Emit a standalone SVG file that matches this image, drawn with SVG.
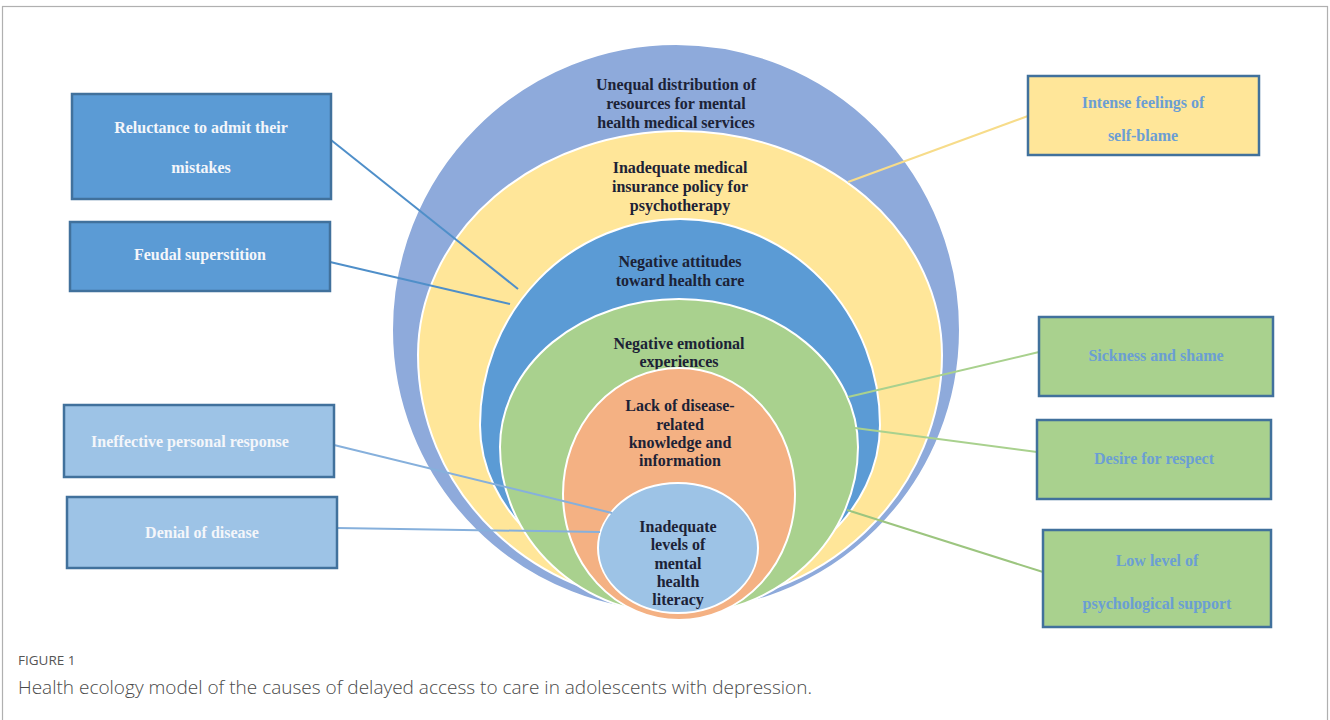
<svg xmlns="http://www.w3.org/2000/svg" width="1330" height="720" viewBox="0 0 1330 720">
  <style>
    .ring { stroke: #ffffff; stroke-width: 2; }
    .ringtxt { font-family: "Liberation Serif", serif; font-weight: bold; font-size: 16px; fill: #1c2236; text-anchor: middle; }
    .box { stroke: #41719c; stroke-width: 2.5; }
    .boxtxt { font-family: "Liberation Serif", serif; font-weight: bold; font-size: 16px; text-anchor: middle; }
    .wt { fill: #f4f6fa; }
    .bt { fill: #6b9ed4; }
    .link { fill: none; stroke-width: 2; }
    .cap1 { font-family: "Open Sans", "Liberation Sans", sans-serif; font-size: 13.5px; fill: #555555; }
    .cap2 { font-family: "Open Sans", "Liberation Sans", sans-serif; font-size: 19px; font-weight: 300; fill: #4a4a4a; }
  </style>

  <rect width="1330" height="720" fill="#ffffff"/>
  <!-- figure frame -->
  <rect x="2.5" y="6.5" width="1325" height="730" fill="none" stroke="#b0b0b0" stroke-width="1.2"/>

  <!-- nested ecological layers, outermost first -->
  <g id="layer-resources">
    <path class="ring" fill="#8eaadb" d="M392,330 A284,286 0 0 1 960,330 A284,282 0 0 1 392,330 Z"/>
    <text class="ringtxt" x="676" y="90">Unequal distribution of</text>
    <text class="ringtxt" x="676" y="109">resources for mental</text>
    <text class="ringtxt" x="676" y="128">health medical services</text>
  </g>
  <g id="layer-insurance">
    <path class="ring" fill="#ffe699" d="M418,355 A262,224 0 0 1 942,355 A262,250 0 0 1 418,355 Z"/>
    <text class="ringtxt" x="680" y="173">Inadequate medical</text>
    <text class="ringtxt" x="680" y="192">insurance policy for</text>
    <text class="ringtxt" x="680" y="211">psychotherapy</text>
  </g>
  <g id="layer-attitudes">
    <path class="ring" fill="#5b9bd5" d="M480,425 A200,206 0 0 1 880,425 A200,165 0 0 1 480,425 Z"/>
    <text class="ringtxt" x="680" y="267">Negative attitudes</text>
    <text class="ringtxt" x="680" y="286">toward health care</text>
  </g>
  <g id="layer-emotions">
    <path class="ring" fill="#a9d18e" d="M500,447 A179,148 0 0 1 858,447 A179,168 0 0 1 500,447 Z"/>
    <text class="ringtxt" x="679" y="349">Negative emotional</text>
    <text class="ringtxt" x="679" y="367">experiences</text>
  </g>
  <g id="layer-knowledge">
    <ellipse class="ring" fill="#f4b183" cx="679" cy="494" rx="116" ry="126"/>
    <text class="ringtxt" x="680" y="411">Lack of disease-</text>
    <text class="ringtxt" x="680" y="430">related</text>
    <text class="ringtxt" x="680" y="448">knowledge and</text>
    <text class="ringtxt" x="680" y="466">information</text>
  </g>
  <g id="layer-literacy">
    <ellipse class="ring" fill="#9dc3e6" cx="678" cy="548" rx="80" ry="65"/>
    <text class="ringtxt" x="678" y="532">Inadequate</text>
    <text class="ringtxt" x="678" y="550">levels of</text>
    <text class="ringtxt" x="678" y="569">mental</text>
    <text class="ringtxt" x="678" y="587">health</text>
    <text class="ringtxt" x="678" y="605">literacy</text>
  </g>

  <!-- connectors from factor boxes to layers -->
  <g id="connectors">
    <line class="link" stroke="#4f8fc9" x1="331" y1="140" x2="518" y2="289"/>
    <line class="link" stroke="#4f8fc9" x1="330" y1="262" x2="510" y2="304"/>
    <line class="link" stroke="#86b0dc" x1="334" y1="445" x2="612" y2="513"/>
    <line class="link" stroke="#86b0dc" x1="337" y1="528" x2="600" y2="532"/>
    <line class="link" stroke="#f7dc8a" x1="1028" y1="116" x2="848" y2="182"/>
    <line class="link" stroke="#a9d18e" x1="1039" y1="352" x2="848" y2="397"/>
    <line class="link" stroke="#a9d18e" x1="1037" y1="452" x2="855" y2="428"/>
    <line class="link" stroke="#9cc57f" x1="1043" y1="572" x2="847" y2="510"/>
  </g>

  <!-- factor boxes -->
  <g id="box-reluctance">
    <rect class="box" fill="#5b9bd5" x="72" y="94" width="259" height="105"/>
    <text class="boxtxt wt" x="201" y="133">Reluctance to admit their</text>
    <text class="boxtxt wt" x="201" y="173">mistakes</text>
  </g>
  <g id="box-feudal">
    <rect class="box" fill="#5b9bd5" x="70" y="222" width="260" height="69"/>
    <text class="boxtxt wt" x="200" y="260">Feudal superstition</text>
  </g>
  <g id="box-ineffective">
    <rect class="box" fill="#9dc3e6" x="64" y="405" width="270" height="72"/>
    <text class="boxtxt wt" x="190" y="447">Ineffective personal response</text>
  </g>
  <g id="box-denial">
    <rect class="box" fill="#9dc3e6" x="67" y="497" width="270" height="71"/>
    <text class="boxtxt wt" x="202" y="538">Denial of disease</text>
  </g>
  <g id="box-selfblame">
    <rect class="box" fill="#ffe699" x="1028" y="76" width="231" height="79"/>
    <text class="boxtxt bt" x="1143" y="108">Intense feelings of</text>
    <text class="boxtxt bt" x="1143" y="141">self-blame</text>
  </g>
  <g id="box-shame">
    <rect class="box" fill="#a9d18e" x="1039" y="317" width="234" height="79"/>
    <text class="boxtxt bt" x="1156" y="361">Sickness and shame</text>
  </g>
  <g id="box-respect">
    <rect class="box" fill="#a9d18e" x="1037" y="420" width="234" height="79"/>
    <text class="boxtxt bt" x="1154" y="464">Desire for respect</text>
  </g>
  <g id="box-support">
    <rect class="box" fill="#a9d18e" x="1043" y="530" width="228" height="97"/>
    <text class="boxtxt bt" x="1157" y="566">Low level of</text>
    <text class="boxtxt bt" x="1157" y="609">psychological support</text>
  </g>

  <!-- caption -->
  <text class="cap1" x="18" y="665">FIGURE 1</text>
  <text class="cap2" x="18" y="694">Health ecology model of the causes of delayed access to care in adolescents with depression.</text>
</svg>
